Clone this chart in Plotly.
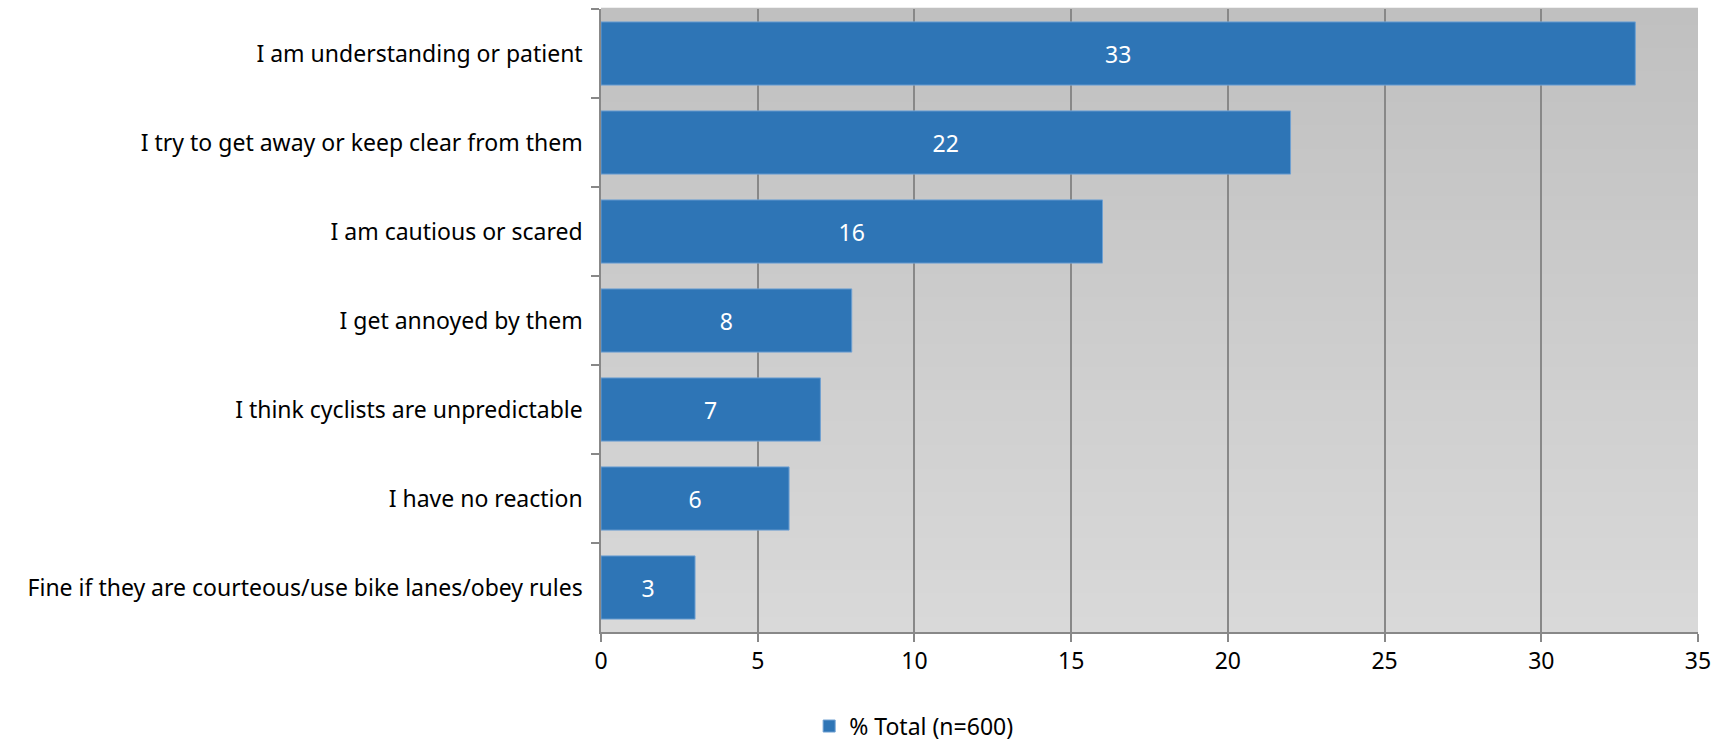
import plotly.graph_objects as go

categories = [
    "I am understanding or patient",
    "I try to get away or keep clear from them",
    "I am cautious or scared",
    "I get annoyed by them",
    "I think cyclists are unpredictable",
    "I have no reaction",
    "Fine if they are courteous/use bike lanes/obey rules",
]
values = [33, 22, 16, 8, 7, 6, 3]
series_name = "% Total (n=600)"
x_ticks = [0, 5, 10, 15, 20, 25, 30, 35]

FONT = "Noto Sans"
FS = 23
W, H = 1718, 744
L, R, T, B = 601, 20, 9, 112

fig = go.Figure()
fig.add_trace(go.Bar(
    y=categories, x=values, orientation="h", name=series_name,
    marker=dict(color="#2E75B6", line=dict(color="#6FA0D2", width=1)),
    text=[str(v) for v in values], textposition="inside", insidetextanchor="middle",
    textfont=dict(color="white", size=FS, family=FONT),
    showlegend=True, hoverinfo="skip",
))

# vertical gradient background of the plot area
n = 80
top = (192, 192, 192)
bot = (217, 217, 217)
shapes = []
for i in range(n):
    f = i / (n - 1)
    c = tuple(round(bot[k] + (top[k] - bot[k]) * f) for k in range(3))
    shapes.append(dict(type="rect", xref="paper", yref="paper",
                       x0=0, x1=1, y0=i / n, y1=(i + 1) / n + 0.002,
                       fillcolor="rgb(%d,%d,%d)" % c, line=dict(width=0), layer="below"))

fig.update_layout(
    width=W, height=H,
    margin=dict(l=L, r=R, t=T, b=B, autoexpand=False),
    paper_bgcolor="white", plot_bgcolor="rgba(0,0,0,0)",
    shapes=shapes,
    bargap=0.29,
    uniformtext=dict(minsize=FS, mode="show"),
    font=dict(family=FONT, size=FS, color="black"),
    legend=dict(orientation="h", x=0.285, xanchor="center", y=-0.151, yanchor="middle",
                font=dict(size=FS, family=FONT), bgcolor="rgba(0,0,0,0)"),
    xaxis=dict(range=[0, 35], tickvals=x_ticks, showgrid=True, gridcolor="#888888", gridwidth=1.5,
               showline=True, linecolor="#888888", linewidth=1.5, ticks="outside", ticklen=8,
               tickcolor="#888888", tickwidth=1.5, zeroline=False, tickfont=dict(size=FS),
               layer="above traces", automargin=False),
    yaxis=dict(categoryorder="array", categoryarray=categories, autorange="reversed",
               showline=True, linecolor="#888888", linewidth=1.5, ticks="outside", ticklen=8,
               tickcolor="#888888", tickwidth=1.5, tickson="boundaries", showgrid=False,
               ticksuffix="  ", tickfont=dict(size=FS), automargin=False),
)
fig.write_html("out.html", config={"displayModeBar": False},
               post_script="document.body.style.margin='0';document.body.style.overflow='hidden';")
